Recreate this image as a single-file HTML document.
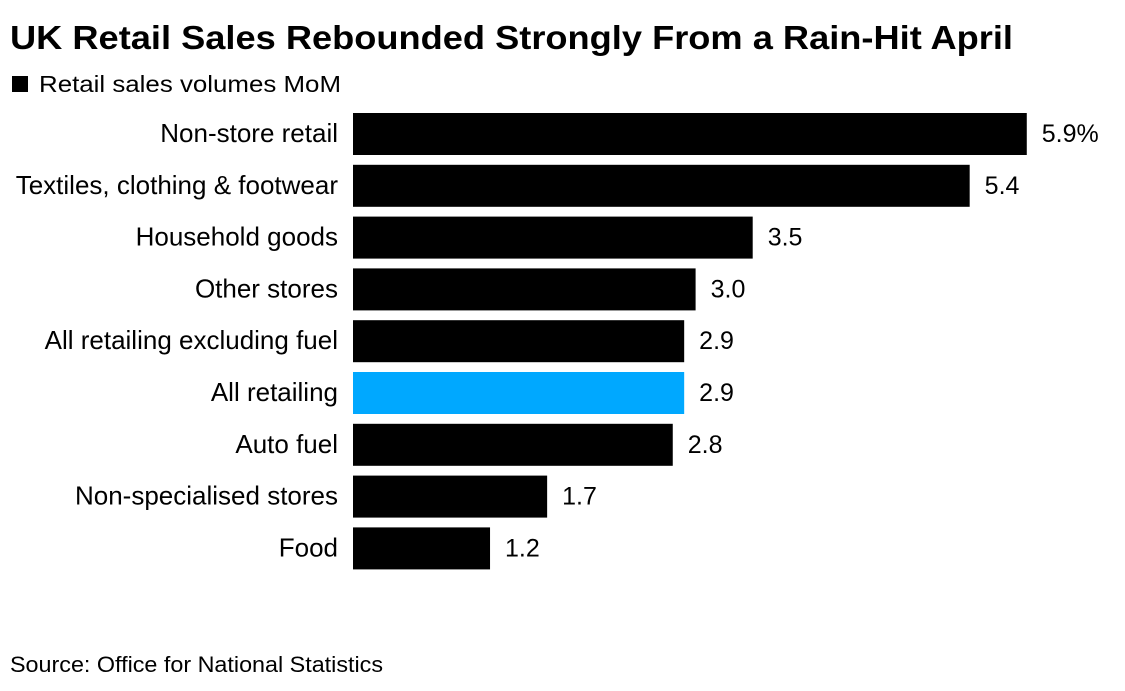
<!DOCTYPE html>
<html><head><meta charset="utf-8"><style>
body{margin:0;background:#fff;width:1125px;height:691px;overflow:hidden;font-family:"Liberation Sans",Arial,sans-serif;}
svg{display:block}
</style></head><body>
<svg id="c" width="1125" height="691">
<text x="10" y="49" font-size="33" font-weight="bold" fill="#000" textLength="1003" lengthAdjust="spacingAndGlyphs">UK Retail Sales Rebounded Strongly From a Rain-Hit April</text>
<rect x="12" y="76" width="16" height="16" fill="#000"/>
<text x="39" y="92" font-size="23" fill="#000" textLength="302" lengthAdjust="spacingAndGlyphs">Retail sales volumes MoM</text>
<text x="10" y="672" font-size="22" fill="#000" textLength="373" lengthAdjust="spacingAndGlyphs">Source: Office for National Statistics</text>
<g id="bars"></g>
</svg>
<script>
const categories=["Non-store retail","Textiles, clothing & footwear","Household goods","Other stores","All retailing excluding fuel","All retailing","Auto fuel","Non-specialised stores","Food"];
const values=[5.9,5.4,3.5,3.0,2.9,2.9,2.8,1.7,1.2];
const valueLabels=["5.9%","5.4","3.5","3.0","2.9","2.9","2.8","1.7","1.2"];
const highlight=["All retailing"];
const x0=353, unit=114.2, barTop=113, pitch=51.8, bh=42;
const xs=v=>x0+v*unit;
const ys=i=>barTop+i*pitch;
const g=document.getElementById('bars');
const NS="http://www.w3.org/2000/svg";
categories.forEach((c,i)=>{
  const r=document.createElementNS(NS,'rect');
  r.setAttribute('x',x0);r.setAttribute('y',ys(i));
  r.setAttribute('width',xs(values[i])-x0);r.setAttribute('height',bh);
  r.setAttribute('fill',highlight.includes(c)?'#00a8ff':'#000');
  
  
  g.appendChild(r);
  const t=document.createElementNS(NS,'text');
  t.setAttribute('x',338);t.setAttribute('y',ys(i)+bh/2+8);
  t.setAttribute('text-anchor','end');t.setAttribute('font-size','26');
  t.textContent=c;
  
  
  g.appendChild(t);
  const v=document.createElementNS(NS,'text');
  v.setAttribute('x',xs(values[i])+15);v.setAttribute('y',ys(i)+bh/2+8);
  v.setAttribute('font-size','25');
  v.textContent=valueLabels[i];
  
  
  g.appendChild(v);
});
</script>
</body></html>
